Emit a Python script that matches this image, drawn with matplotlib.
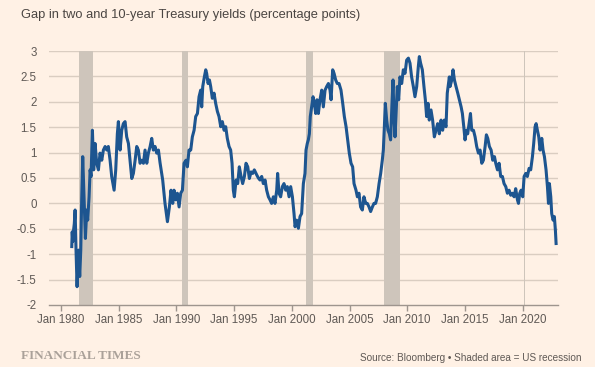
import matplotlib
matplotlib.use("Agg")
import matplotlib.pyplot as plt
import numpy as np

# spread between 10-year and 2-year Treasury yields
years = [1980.93, 1980.97, 1981.02, 1981.07, 1981.15, 1981.22, 1981.30, 1981.39, 1981.45,
         1981.51, 1981.62, 1981.71, 1981.79, 1981.88, 1982.00, 1982.11, 1982.23, 1982.31,
         1982.43, 1982.52, 1982.60, 1982.72, 1982.83, 1982.95, 1983.09, 1983.24, 1983.38,
         1983.53, 1983.67, 1983.82, 1983.96, 1984.10, 1984.25, 1984.39, 1984.60, 1984.74,
         1984.88, 1984.97, 1985.12, 1985.26, 1985.40, 1985.55, 1985.69, 1985.84, 1985.98,
         1986.13, 1986.27, 1986.42, 1986.56, 1986.70, 1986.85, 1986.99, 1987.14, 1987.28,
         1987.43, 1987.57, 1987.72, 1987.86, 1988.00, 1988.15, 1988.29, 1988.44, 1988.58,
         1988.81, 1989.01, 1989.22, 1989.39, 1989.53, 1989.68, 1989.79, 1989.94, 1990.08,
         1990.23, 1990.37, 1990.52, 1990.66, 1990.83, 1990.95, 1991.09, 1991.24, 1991.38,
         1991.53, 1991.67, 1991.82, 1991.96, 1992.10, 1992.19, 1992.28, 1992.42, 1992.54,
         1992.62, 1992.74, 1992.86, 1992.97, 1993.11, 1993.26, 1993.40, 1993.55, 1993.69,
         1993.84, 1993.98, 1994.13, 1994.27, 1994.41, 1994.56, 1994.70, 1994.82, 1994.93,
         1995.02, 1995.17, 1995.31, 1995.45, 1995.60, 1995.74, 1995.89, 1996.03, 1996.18,
         1996.32, 1996.47, 1996.61, 1996.75, 1996.96, 1997.10, 1997.24, 1997.39, 1997.53,
         1997.68, 1997.82, 1997.97, 1998.11, 1998.25, 1998.40, 1998.54, 1998.69, 1998.77,
         1998.89, 1999.03, 1999.18, 1999.32, 1999.47, 1999.61, 1999.76, 1999.90, 2000.05,
         2000.19, 2000.28, 2000.42, 2000.57, 2000.71, 2000.85, 2001.00, 2001.14, 2001.23,
         2001.34, 2001.43, 2001.52, 2001.60, 2001.72, 2001.84, 2001.95, 2002.07, 2002.18,
         2002.30, 2002.44, 2002.59, 2002.73, 2002.88, 2003.02, 2003.17, 2003.31, 2003.40,
         2003.54, 2003.66, 2003.80, 2003.94, 2004.09, 2004.26, 2004.41, 2004.55, 2004.70,
         2004.84, 2004.98, 2005.13, 2005.27, 2005.39, 2005.56, 2005.68, 2005.82, 2005.96,
         2006.11, 2006.25, 2006.40, 2006.54, 2006.69, 2006.83, 2006.98, 2007.12, 2007.26,
         2007.41, 2007.56, 2007.70, 2007.84, 2007.93, 2008.02, 2008.10, 2008.22, 2008.33,
         2008.45, 2008.56, 2008.68, 2008.77, 2008.85, 2008.94, 2009.03, 2009.14, 2009.26,
         2009.37, 2009.52, 2009.66, 2009.81, 2009.95, 2010.10, 2010.24, 2010.38, 2010.53,
         2010.67, 2010.82, 2010.96, 2011.05, 2011.16, 2011.31, 2011.45, 2011.57, 2011.68,
         2011.80, 2011.91, 2012.06, 2012.20, 2012.35, 2012.49, 2012.64, 2012.78, 2012.93,
         2013.07, 2013.21, 2013.36, 2013.47, 2013.65, 2013.71, 2013.86, 2013.97, 2014.09,
         2014.23, 2014.38, 2014.52, 2014.67, 2014.78, 2014.90, 2015.01, 2015.13, 2015.24,
         2015.36, 2015.48, 2015.59, 2015.74, 2015.88, 2016.02, 2016.17, 2016.31, 2016.46,
         2016.60, 2016.75, 2016.86, 2016.98, 2017.12, 2017.27, 2017.41, 2017.56, 2017.67,
         2017.82, 2017.96, 2018.10, 2018.25, 2018.39, 2018.54, 2018.68, 2018.83, 2018.97,
         2019.11, 2019.26, 2019.40, 2019.55, 2019.64, 2019.75, 2019.87, 2020.01, 2020.13,
         2020.27, 2020.41, 2020.56, 2020.70, 2020.85, 2020.96, 2021.08, 2021.17, 2021.28,
         2021.40, 2021.51, 2021.66, 2021.77, 2021.89, 2022.03, 2022.15, 2022.24, 2022.32,
         2022.44, 2022.52, 2022.64, 2022.75, 2022.84, 2022.90]
spread = [-0.85, -0.56, -0.75, -0.56, -0.40, -0.13, -0.92, -1.64, -1.30,
          -0.92, -1.44, -0.92, 0.07, 0.92, 0.07, -0.69, -0.13, -0.33,
          0.13, 0.66, 0.53, 1.44, 0.66, 1.18, 0.79, 0.66, 0.99,
          0.85, 1.05, 1.12, 1.05, 1.12, 0.85, 0.53, 0.26, 0.66,
          1.37, 1.61, 1.05, 1.44, 1.57, 1.61, 1.31, 1.18, 0.85,
          0.49, 0.59, 0.85, 1.12, 1.05, 0.79, 0.85, 0.79, 1.05,
          0.79, 0.99, 1.12, 1.28, 1.05, 1.12, 0.99, 1.05, 0.80,
          0.46, 0.00, -0.36, -0.07, 0.26, 0.00, 0.26, 0.07, 0.20,
          -0.07, 0.20, 0.26, 0.79, 0.85, 0.72, 1.05, 1.05, 1.31,
          1.44, 1.71, 1.77, 2.10, 2.23, 1.90, 2.30, 2.49, 2.63,
          2.56, 2.36, 2.43, 2.30, 2.07, 2.17, 1.97, 1.81, 1.71,
          1.51, 1.61, 1.44, 1.51, 1.28, 1.12, 1.05, 0.79, 0.26,
          0.13, 0.46, 0.39, 0.72, 0.53, 0.39, 0.53, 0.79, 0.72,
          0.49, 0.62, 0.59, 0.66, 0.56, 0.50, 0.46, 0.53, 0.39,
          0.46, 0.26, 0.13, 0.07, 0.00, 0.13, 0.00, 0.26, 0.59,
          0.20, 0.13, 0.33, 0.39, 0.26, 0.33, 0.13, 0.33, 0.13,
          -0.20, -0.46, -0.33, -0.49, -0.26, -0.20, 0.39, 0.59, 1.05,
          1.18, 1.25, 1.37, 1.71, 1.90, 2.10, 1.97, 1.77, 2.04,
          1.77, 2.04, 2.23, 1.90, 2.23, 2.30, 2.36, 2.23, 2.04,
          2.63, 2.56, 2.43, 2.36, 2.36, 2.23, 1.97, 1.71, 1.51,
          1.25, 0.99, 0.79, 0.72, 0.39, 0.26, 0.13, 0.20, -0.07,
          -0.13, 0.13, 0.00, 0.00, -0.07, -0.16, -0.07, 0.00, 0.00,
          0.13, 0.39, 0.59, 0.85, 1.05, 1.51, 1.97, 1.64, 1.44,
          1.37, 1.25, 1.97, 2.43, 1.71, 1.31, 1.77, 2.30, 2.04,
          2.49, 2.36, 2.63, 2.56, 2.82, 2.86, 2.76, 2.49, 2.30,
          2.10, 2.30, 2.69, 2.89, 2.76, 2.63, 2.30, 2.04, 1.71,
          1.97, 1.64, 1.84, 1.64, 1.31, 1.44, 1.57, 1.37, 1.64,
          1.44, 1.64, 1.51, 2.17, 2.49, 2.30, 2.43, 2.63, 2.43,
          2.30, 2.17, 2.04, 1.90, 1.77, 1.51, 1.25, 1.44, 1.37,
          1.57, 1.77, 1.44, 1.44, 1.31, 1.12, 0.99, 1.05, 0.79,
          0.85, 1.12, 1.35, 1.28, 1.12, 1.05, 0.85, 0.92, 0.79,
          0.66, 0.79, 0.53, 0.53, 0.39, 0.33, 0.20, 0.26, 0.16,
          0.20, 0.13, 0.29, 0.07, 0.00, 0.20, 0.26, 0.13, 0.53,
          0.59, 0.53, 0.69, 0.66, 0.92, 1.18, 1.51, 1.57, 1.44,
          1.31, 1.05, 1.28, 1.05, 0.92, 0.66, 0.33, 0.00, 0.39,
          0.13, -0.20, -0.33, -0.26, -0.53, -0.79]

# US recessions (start, end)
rec_start = [1981.54, 1990.50, 2001.25, 2008.00, 2020.08]
rec_end = [1982.75, 1991.00, 2001.83, 2009.40, 2020.20]

yticks = [-2, -1.5, -1, -0.5, 0, 0.5, 1, 1.5, 2, 2.5, 3]
xtick_years = [1980, 1985, 1990, 1995, 2000, 2005, 2010, 2015, 2020]
xtick_labels = ['Jan ' + str(y) for y in xtick_years]

bg = '#fff1e5'
plt.rcParams['font.family'] = ['Liberation Sans', 'DejaVu Sans']

fig = plt.figure(figsize=(5.95, 3.67), dpi=100, facecolor=bg)
ax = fig.add_axes([0.0824, 0.169, 0.8555, 0.692])
ax.set_facecolor(bg)

for s, e in zip(rec_start, rec_end):
    ax.axvspan(s, e, color='#cec5bb', lw=0, zorder=1)

for t in yticks[1:]:
    ax.axhline(t, color='#dacdc1', lw=1.0, zorder=0.5)

ax.plot(years, spread, color='#1d5590', lw=2.2, zorder=3, solid_joinstyle='round')

ax.set_xlim(1978.96, 2023.07)
ax.set_ylim(-2, 3)
ax.set_yticks(yticks)
ax.set_yticklabels([('%g' % t) for t in yticks])
ax.set_xticks(xtick_years)
ax.set_xticklabels(xtick_labels)

for side in ['top', 'right', 'left']:
    ax.spines[side].set_visible(False)
ax.spines['bottom'].set_color('#9e958e')
ax.spines['bottom'].set_linewidth(1.0)
ax.tick_params(axis='y', length=0, pad=9, labelsize=8.3, labelcolor='#5f5955')
ax.tick_params(axis='x', length=4.5, width=1.0, color='#9e958e', pad=2,
               labelsize=8.3, labelcolor='#5f5955')

fig.text(21 / 595, 1 - 15 / 367, 'Gap in two and 10-year Treasury yields (percentage points)',
         fontsize=9.3, color='#4a4542', va='center', ha='left')
fig.text(21 / 595, 1 - 356 / 367, 'FINANCIAL TIMES', family='Liberation Serif',
         fontsize=9.5, fontweight='bold', color='#aaa199', va='center', ha='left')
fig.text(581 / 595, 1 - 358 / 367, 'Source: Bloomberg \u2022 Shaded area = US recession',
         fontsize=7.2, color='#5f5955', va='center', ha='right')

fig.savefig('out.png', dpi=100, facecolor=bg)
